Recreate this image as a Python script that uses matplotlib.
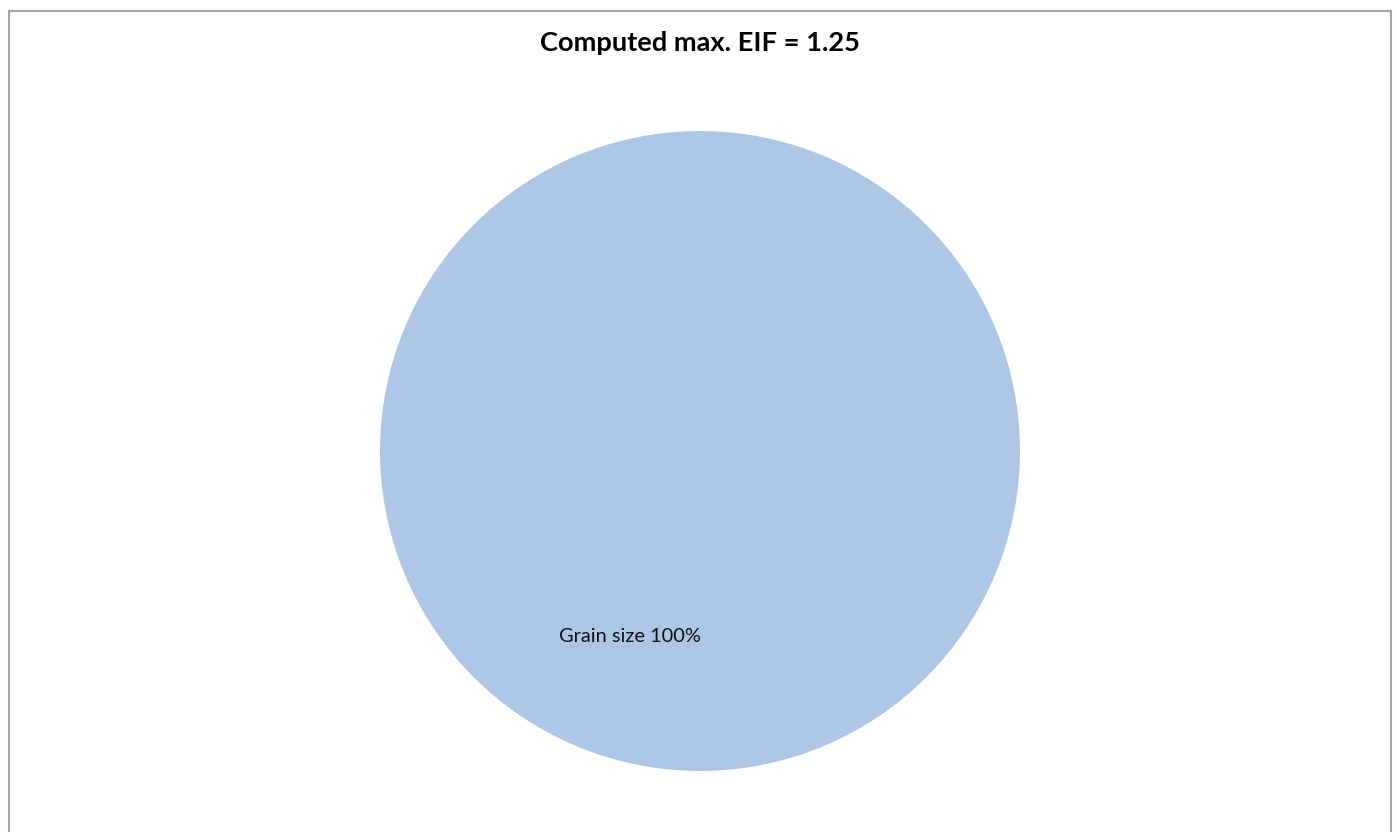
import matplotlib.pyplot as plt
from matplotlib.patches import Rectangle

plt.rcParams['font.family'] = ['Lato', 'DejaVu Sans']

# data
categories = ['Grain size']
values = [100]
title = 'Computed max. EIF = 1.25'

W, H = 1397, 832
fig = plt.figure(figsize=(W / 100, H / 100), dpi=100)

# chart area border (runs off the bottom edge)
fig.patches.append(Rectangle((9 / W, -0.05), (1391 - 9) / W, 1.05 - 11 / H,
                             transform=fig.transFigure, fill=False,
                             edgecolor='#a6a6a6', linewidth=1.5))

ax = fig.add_axes([380 / W, (H - 771) / H, 640 / W, 640 / H])
ax.pie(values, colors=['#aec6e6'], startangle=69.3, radius=1,
       autopct=lambda p: f'{categories[0]} {p:.0f}%', pctdistance=0.62,
       textprops={'fontsize': 14.4, 'color': '#111111'})
ax.set_xlim(-1, 1)
ax.set_ylim(-1, 1)
ax.set_aspect('auto')
ax.axis('off')

fig.text(700 / W, 1 - 43 / H, title, ha='center', va='center',
         fontsize=19.6, fontweight='bold')

fig.savefig('out.png', dpi=100)
